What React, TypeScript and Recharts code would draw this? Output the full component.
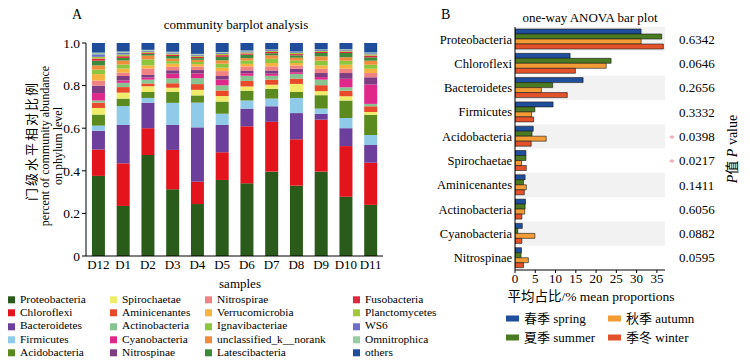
import React from 'react';
import { BarChart, Bar, XAxis, YAxis, ReferenceArea } from 'recharts';

const SERIF = '"Liberation Serif", "Noto Sans CJK SC", serif';

// panel A: community composition per sample
const samples = ['D12', 'D1', 'D2', 'D3', 'D4', 'D5', 'D6', 'D7', 'D8', 'D9', 'D10', 'D11'];

const proteobacteria = [0.376, 0.235, 0.474, 0.313, 0.244, 0.357, 0.341, 0.396, 0.33, 0.396, 0.278, 0.24];
const chloroflexi = [0.124, 0.2, 0.126, 0.185, 0.105, 0.13, 0.268, 0.234, 0.218, 0.244, 0.238, 0.198];
const bacteroidetes = [0.088, 0.18, 0.12, 0.117, 0.255, 0.128, 0.083, 0.073, 0.123, 0.027, 0.084, 0.083];
const firmicutes = [0.024, 0.089, 0.022, 0.104, 0.116, 0.053, 0.038, 0.036, 0.071, 0.025, 0.048, 0.047];
const acidobacteria = [0.052, 0.035, 0.028, 0.052, 0.034, 0.057, 0.046, 0.046, 0.028, 0.063, 0.082, 0.095];
const spirochaetae = [0.031, 0.028, 0.027, 0.019, 0.026, 0.026, 0.02, 0.019, 0.038, 0.019, 0.02, 0.013];
const aminicenantes = [0.025, 0.026, 0.013, 0.021, 0.027, 0.026, 0.026, 0.024, 0.025, 0.028, 0.026, 0.027];
const actinobacteria = [0.01, 0.02, 0.018, 0.023, 0.028, 0.024, 0.024, 0.018, 0.022, 0.026, 0.016, 0.011];
const cyanobacteria = [0.035, 0.011, 0.01, 0.022, 0.022, 0.028, 0.012, 0.01, 0.008, 0.012, 0.04, 0.091];
const nitrospinae = [0.035, 0.021, 0.012, 0.016, 0.016, 0.016, 0.013, 0.015, 0.016, 0.019, 0.027, 0.034];
const nitrospirae = [0.023, 0.016, 0.03, 0.016, 0.016, 0.023, 0.019, 0.019, 0.015, 0.02, 0.02, 0.02];
const verrucomicrobia = [0.031, 0.019, 0.015, 0.015, 0.012, 0.016, 0.012, 0.016, 0.012, 0.016, 0.019, 0.02];
const ignavibacteriae = [0.021, 0.019, 0.028, 0.012, 0.01, 0.019, 0.016, 0.02, 0.012, 0.022, 0.019, 0.019];
const unclassified = [0.02, 0.019, 0.018, 0.012, 0.01, 0.016, 0.011, 0.016, 0.013, 0.02, 0.016, 0.019];
const latescibacteria = [0.022, 0.012, 0.008, 0.012, 0.008, 0.016, 0.016, 0.01, 0.011, 0.016, 0.02, 0.016];
const fusobacteria = [0.01, 0.008, 0.005, 0.006, 0.006, 0.008, 0.006, 0.006, 0.006, 0.005, 0.006, 0.008];
const planctomycetes = [0.008, 0.008, 0.005, 0.005, 0.005, 0.006, 0.005, 0.005, 0.005, 0.005, 0.005, 0.006];
const ws6 = [0.012, 0.008, 0.005, 0.005, 0.005, 0.005, 0.005, 0.004, 0.004, 0.004, 0.004, 0.005];
const omnitrophica = [0.008, 0.006, 0.004, 0.004, 0.004, 0.004, 0.004, 0.003, 0.003, 0.003, 0.003, 0.004];
const others = [0.045, 0.04, 0.032, 0.041, 0.051, 0.042, 0.035, 0.03, 0.04, 0.03, 0.029, 0.044];

const phyla = [
  { name: 'Proteobacteria', color: '#2b5b1b', values: proteobacteria },
  { name: 'Chloroflexi', color: '#e3141c', values: chloroflexi },
  { name: 'Bacteroidetes', color: '#6b3f9b', values: bacteroidetes },
  { name: 'Firmicutes', color: '#8fcbe9', values: firmicutes },
  { name: 'Acidobacteria', color: '#5b8a1f', values: acidobacteria },
  { name: 'Spirochaetae', color: '#efec6c', values: spirochaetae },
  { name: 'Aminicenantes', color: '#e84a2a', values: aminicenantes },
  { name: 'Actinobacteria', color: '#88c490', values: actinobacteria },
  { name: 'Cyanobacteria', color: '#e0288b', values: cyanobacteria },
  { name: 'Nitrospinae', color: '#7e3c82', values: nitrospinae },
  { name: 'Nitrospirae', color: '#f08284', values: nitrospirae },
  { name: 'Verrucomicrobia', color: '#f6b340', values: verrucomicrobia },
  { name: 'Ignavibacteriae', color: '#8cc63f', values: ignavibacteriae },
  { name: 'unclassified_k__norank', color: '#f08c3c', values: unclassified },
  { name: 'Latescibacteria', color: '#3d8a3d', values: latescibacteria },
  { name: 'Fusobacteria', color: '#e2283f', values: fusobacteria },
  { name: 'Planctomycetes', color: '#a4c83a', values: planctomycetes },
  { name: 'WS6', color: '#6c70c8', values: ws6 },
  { name: 'Omnitrophica', color: '#97cba2', values: omnitrophica },
  { name: 'others', color: '#1f4d9b', values: others },
];

// panel B: seasonal means (%)
const phylaB = ['Proteobacteria', 'Chloroflexi', 'Bacteroidetes', 'Firmicutes', 'Acidobacteria', 'Spirochaetae', 'Aminicenantes', 'Actinobacteria', 'Cyanobacteria', 'Nitrospinae'];
const spring = [31.1, 13.6, 16.8, 9.4, 4.5, 2.7, 2.5, 2.6, 1.8, 1.6];
const summer = [36.2, 23.7, 9.3, 4.9, 4.2, 2.7, 2.1, 2.5, 0.7, 1.5];
const autumn = [31.1, 22.5, 6.5, 4.1, 7.7, 1.6, 2.8, 2.4, 4.9, 3.3];
const winter = [36.6, 14.9, 12.9, 4.6, 4.0, 2.8, 2.3, 1.7, 1.7, 2.1];
const pValues = ['0.6342', '0.0646', '0.2656', '0.3332', '0.0398', '0.0217', '0.1411', '0.6056', '0.0882', '0.0595'];

const seasons = [
  { key: 'spring', label: '春季 spring', color: '#1f4e9c' },
  { key: 'summer', label: '夏季 summer', color: '#4a7b22' },
  { key: 'autumn', label: '秋季 autumn', color: '#f39b35' },
  { key: 'winter', label: '季冬 winter', color: '#e2522b' },
];

const tableA = samples.map((s, i) => {
  const row: any = { sample: s };
  phyla.forEach((p) => (row[p.name] = p.values[i]));
  return row;
});

const tableB = phylaB.map((name, i) => ({
  phylum: name,
  spring: spring[i],
  summer: summer[i],
  autumn: autumn[i],
  winter: winter[i],
  p: pValues[i],
}));

const B_WIDTH = 350;
const B_RIGHT = 85;
const B_PLOT_RIGHT = B_WIDTH - B_RIGHT;

function RotText({ x, y, size, children, spacing = 0 }: any) {
  return (
    <div
      style={{
        position: 'absolute',
        left: x,
        top: y,
        transform: 'translate(-50%, -50%) rotate(-90deg)',
        whiteSpace: 'nowrap',
        fontSize: size,
        letterSpacing: spacing,
        lineHeight: 1,
      }}
    >
      {children}
    </div>
  );
}

function Abs({ x, y, size, children, center = false }: any) {
  return (
    <div
      style={{
        position: 'absolute',
        left: x,
        top: y,
        transform: center ? 'translate(-50%, -50%)' : 'translateY(-50%)',
        whiteSpace: 'nowrap',
        fontSize: size,
        lineHeight: 1,
      }}
    >
      {children}
    </div>
  );
}

function PhylumTick(props: any) {
  const { x, y, payload, index } = props;
  const p = pValues[index];
  const sig = parseFloat(p) < 0.05;
  return (
    <g>
      <text x={x} y={y} dy="0.35em" textAnchor="end" fontSize={12.5} fill="#000" fontFamily={SERIF}>
        {payload.value}
      </text>
      {sig && (
        <text x={B_PLOT_RIGHT + 7} y={y} dy="0.5em" textAnchor="middle" fontSize={11} fill="#e88a9a" fontFamily={SERIF}>
          *
        </text>
      )}
      <text x={B_PLOT_RIGHT + 14} y={y} dy="0.35em" textAnchor="start" fontSize={13} fill="#000" fontFamily={SERIF}>
        {p}
      </text>
    </g>
  );
}

const legendCols = [8, 110, 205, 353];
const legendRows = [300, 313.2, 326.4, 339.6, 352.8];

export default function App() {
  return (
    <div style={{ position: 'absolute', left: 0, top: 0, width: 750, height: 364, background: '#fff', fontFamily: SERIF, color: '#000' }}>
      {/* panel A */}
      <Abs x={72} y={15} size={14}>A</Abs>
      <Abs x={236} y={24} size={13} center>community barplot analysis</Abs>
      <RotText x={31} y={141} size={13} spacing={2}>门级水平相对比例</RotText>
      <RotText x={45} y={146} size={12}>percent of community abundance</RotText>
      <RotText x={58} y={146} size={12}>on phylum level</RotText>
      <Abs x={240} y={283} size={13} center>samples</Abs>
      <div style={{ position: 'absolute', left: 0, top: 0 }}>
        <BarChart width={400} height={290} data={tableA} margin={{ top: 43, right: 17, left: 0, bottom: 0 }} barCategoryGap="24%">
          <XAxis
            dataKey="sample"
            height={34}
            interval={0}
            tickLine={false}
            tickSize={2}
            axisLine={{ stroke: '#000' }}
            tick={{ fill: '#000', fontSize: 13, fontFamily: SERIF }}
          />
          <YAxis
            width={86}
            domain={[0, 1]}
            ticks={[0, 0.2, 0.4, 0.6, 0.8, 1]}
            allowDataOverflow
            tickSize={4}
            axisLine={{ stroke: '#000' }}
            tickLine={{ stroke: '#000' }}
            tick={{ fill: '#000', fontSize: 13.5, fontFamily: SERIF }}
            tickFormatter={(v: number) => (v === 0 ? '0' : v.toFixed(1))}
          />
          {phyla.map((p) => (
            <Bar key={p.name} dataKey={p.name} stackId="a" fill={p.color} isAnimationActive={false} />
          ))}
        </BarChart>
      </div>
      {phyla.map((p, i) => {
        const col = Math.floor(i / 5);
        const row = i % 5;
        return (
          <div key={p.name} style={{ position: 'absolute', left: legendCols[col], top: legendRows[row], transform: 'translateY(-50%)', display: 'flex', alignItems: 'center', fontSize: 11.4, lineHeight: 1, whiteSpace: 'nowrap' }}>
            <span style={{ display: 'inline-block', width: 7, height: 7, background: p.color, marginRight: 5 }} />
            {p.name}
          </div>
        );
      })}

      {/* panel B */}
      <Abs x={441} y={15} size={14}>B</Abs>
      <Abs x={590} y={17} size={13} center>one-way ANOVA bar plot</Abs>
      <RotText x={733} y={149} size={14}>
        <i>P</i>值 <i>P</i> value
      </RotText>
      <Abs x={591} y={297} size={13.5} center>平均占比/% mean proportions</Abs>
      <div style={{ position: 'absolute', left: 400, top: 0 }}>
        <BarChart
          layout="vertical"
          width={B_WIDTH}
          height={300}
          data={tableB}
          margin={{ top: 27, right: B_RIGHT, left: 0, bottom: 0 }}
          barCategoryGap={2}
          barGap={0}
        >
          {phylaB
            .filter((_, i) => i % 2 === 0)
            .map((name) => (
              <ReferenceArea key={name} y1={name} y2={name} fill="#f2f2f2" fillOpacity={1} stroke="none" ifOverflow="visible" />
            ))}
          <XAxis
            type="number"
            domain={[0, 37]}
            ticks={[0, 5, 10, 15, 20, 25, 30, 35]}
            allowDataOverflow
            height={30}
            tickSize={3}
            tickMargin={1}
            axisLine={{ stroke: '#000' }}
            tickLine={{ stroke: '#000' }}
            tick={{ fill: '#000', fontSize: 13, fontFamily: SERIF }}
          />
          <YAxis
            type="category"
            dataKey="phylum"
            width={115}
            interval={0}
            tickLine={false}
            tickSize={0}
            tickMargin={3}
            axisLine={{ stroke: '#000' }}
            tick={<PhylumTick />}
          />
          {seasons.map((s) => (
            <Bar key={s.key} dataKey={s.key} fill={s.color} stroke="#1a1a1a" strokeWidth={0.6} isAnimationActive={false} />
          ))}
        </BarChart>
      </div>
      {seasons.map((s, i) => {
        const left = i < 2 ? 506 : 608;
        const top = i % 2 === 0 ? 318 : 337;
        return (
          <div key={s.key} style={{ position: 'absolute', left, top, transform: 'translateY(-50%)', display: 'flex', alignItems: 'center', fontSize: 13, lineHeight: 1, whiteSpace: 'nowrap' }}>
            <span style={{ display: 'inline-block', width: 13, height: 6, background: s.color, marginRight: 5 }} />
            {s.label}
          </div>
        );
      })}
    </div>
  );
}
